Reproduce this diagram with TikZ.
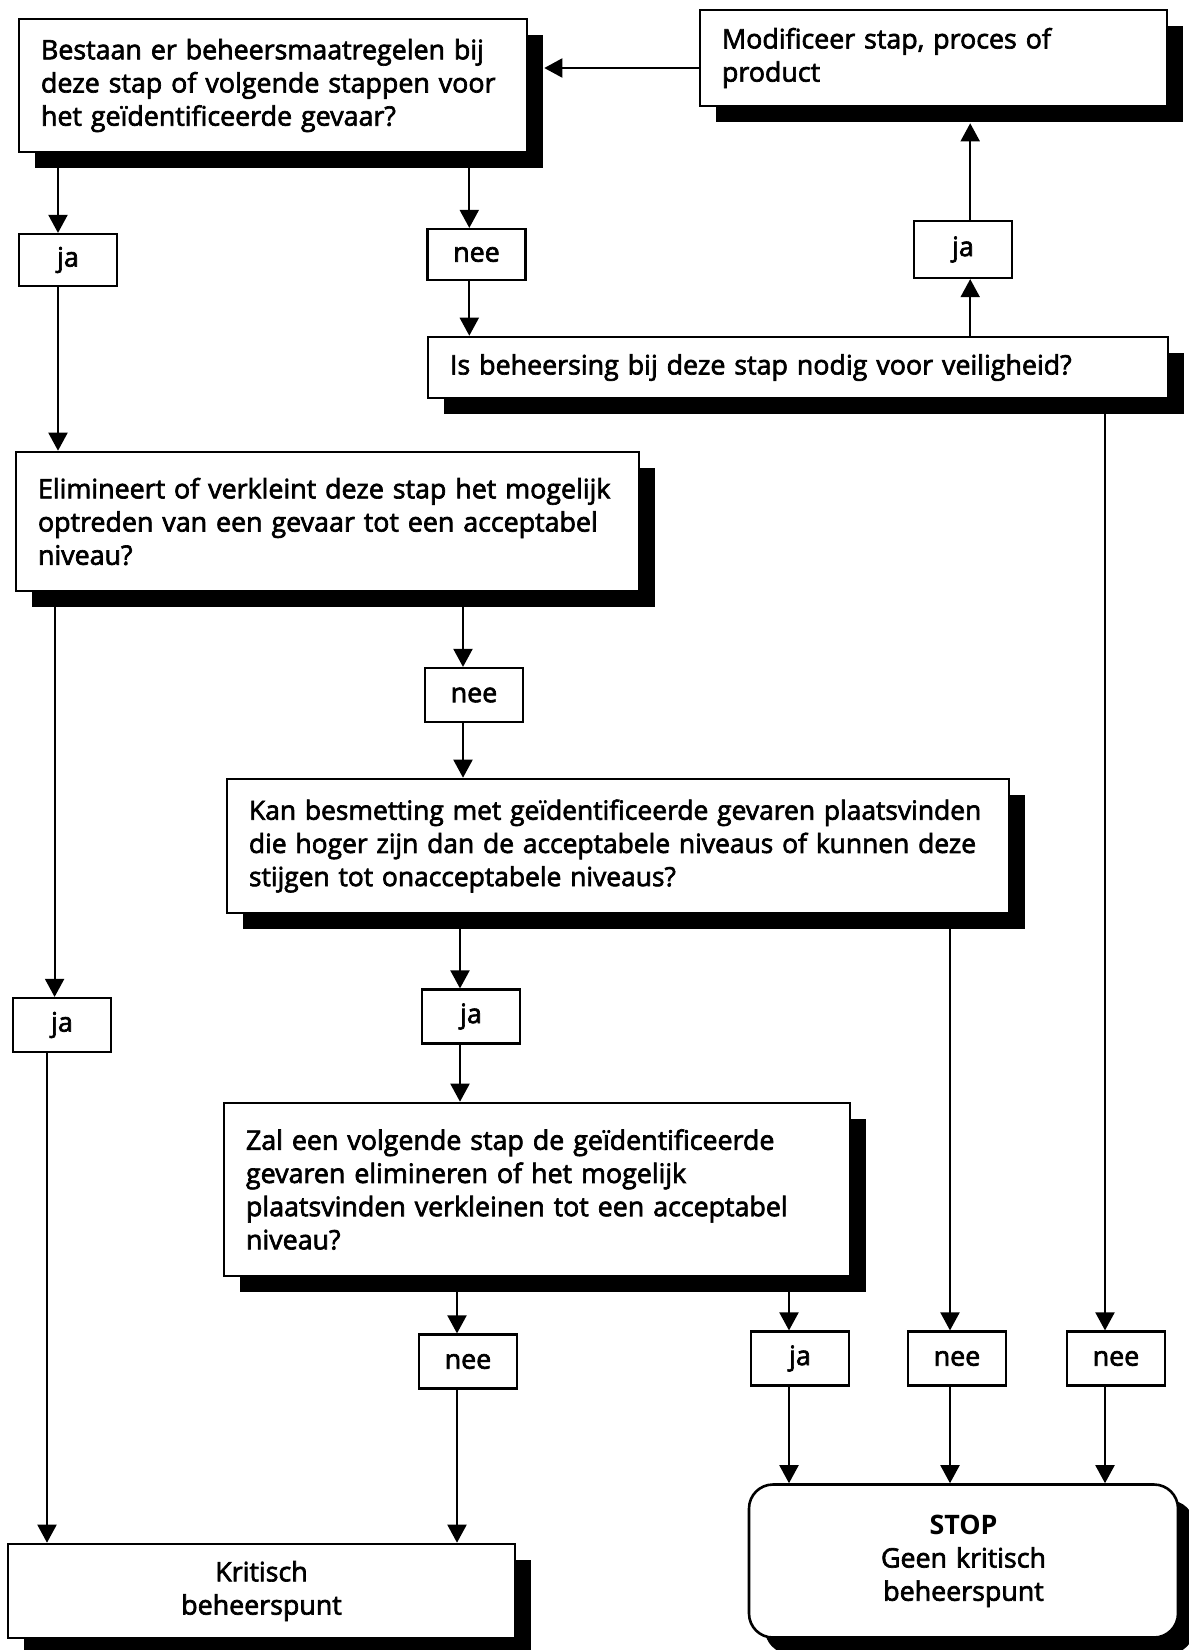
\documentclass[tikz,border=0pt]{standalone}
\usepackage{fontspec}
\setmainfont{Open Sans}[UprightFeatures={FakeBold=2.5}]
\usetikzlibrary{positioning}
\usetikzlibrary{arrows.meta}
\usetikzlibrary{shadows}
\tikzset{
  % A question box with a hard black drop shadow
  question/.style={
    draw=black, fill=white, line width=1.3pt, rectangle, align=left,
    inner xsep=11pt, inner ysep=4pt, text width=#1,
    general shadow={fill=black, shadow xshift=8pt, shadow yshift=-8pt}},
  % The two end boxes
  result/.style={
    draw=black, fill=white, line width=1.3pt, rectangle, align=center,
    inner xsep=11pt, text width=#1,
    general shadow={fill=black, shadow xshift=8pt, shadow yshift=-8pt}},
  % A small answer box (ja / nee)
  answer/.style={
    draw=black, fill=white, line width=1.1pt, rectangle, align=center,
    minimum width=49pt, minimum height=27pt, inner sep=2pt},
  % Connectors
  arr/.style={-{Triangle[length=9pt, width=9.5pt]}, line width=1pt},
}

\begin{document}
\begin{tikzpicture}[x=0.5pt, y=-0.5pt, font=\fontsize{13.4}{16.6}\selectfont]

  \useasboundingbox (0,0) rectangle (1189,1650);

  % questions
  \node[question=232pt, minimum height=66.5pt] (q1) at (273,85.5)
    {Bestaan er beheersmaatregelen bij\\deze stap of volgende stappen voor\\het geïdentificeerde gevaar?};
  \node[question=211.5pt, minimum height=48pt] (mod) at (933.5,58)
    {Modificeer stap, proces of\\product};
  \node[question=348pt, minimum height=30.5pt] (q2) at (798,367.5)
    {Is beheersing bij deze stap nodig voor veiligheid?};
  \node[question=289.5pt, minimum height=69.5pt] (q3) at (327.5,521.5)
    {Elimineert of verkleint deze stap het mogelijk\\optreden van een gevaar tot een acceptabel\\niveau?};
  \node[question=369pt, minimum height=67pt, font=\fontsize{13.2}{16.6}\selectfont] (q4) at (618,846)
    {Kan besmetting met geïdentificeerde gevaren plaatsvinden\\die hoger zijn dan de acceptabele niveaus of kunnen deze\\stijgen tot onacceptabele niveaus?};
  \node[question=291pt, minimum height=86.5pt] (q5) at (537,1189.5)
    {Zal een volgende stap de geïdentificeerde\\gevaren elimineren of het mogelijk\\plaatsvinden verkleinen tot een acceptabel\\niveau?};

  % end boxes
  \node[result=231.5pt, minimum height=47pt] (krit) at (261.5,1591)
    {Kritisch\\beheerspunt};
  \node[result=192.5pt, minimum height=76.5pt, rounded corners=12pt] (stop) at (963.5,1561)
    {\textbf{STOP}\\Geen kritisch\\beheerspunt};

  % answers
  \node[answer, minimum height=26pt] (ja1) at (68,260) {ja};
  \node[answer, minimum height=25.5pt] (nee1) at (476.5,254.5) {nee};
  \node[answer, minimum height=28.5pt] (jaM) at (963,249.5) {ja};
  \node[answer] (nee2) at (474,695) {nee};
  \node[answer] (jaL) at (62,1025) {ja};
  \node[answer] (jaC) at (471,1016.5) {ja};
  \node[answer] (nee3) at (468,1361.5) {nee};
  \node[answer] (jaR) at (800,1358.5) {ja};
  \node[answer] (nee4) at (957,1358.5) {nee};
  \node[answer] (nee5) at (1116,1358.5) {nee};

  % first question
  \draw[arr] ([xshift=-5pt]q1.south -| ja1) -- ([xshift=-5pt]ja1.north);
  \draw[arr] ([xshift=-5pt]ja1.south) -- ([xshift=-5pt]ja1.south |- q3.north);
  \draw[arr] ([xshift=-3.6pt]q1.south -| nee1) -- ([xshift=-3.6pt]nee1.north);
  \draw[arr] ([xshift=-3.6pt]nee1.south) -- ([xshift=-3.6pt]nee1.south |- q2.north);

  % control needed?
  \draw[arr] ([xshift=3.6pt]q2.north -| jaM) -- ([xshift=3.6pt]jaM.south);
  \draw[arr] ([xshift=3.6pt]jaM.north) -- ([xshift=3.6pt, yshift=-8pt]mod.south -| jaM);
  \draw[arr] ([yshift=-5pt]mod.west) -- ([xshift=8pt, yshift=-5pt]q1.east |- mod.west);
  \draw[arr] ([xshift=-5.5pt]q2.south -| nee5) -- ([xshift=-5.5pt]nee5.north);

  % elimination step
  \draw[arr] ([xshift=-3.7pt]q3.south -| jaL) -- ([xshift=-3.7pt]jaL.north);
  \draw[arr] ([xshift=-7.5pt]jaL.south) -- ([xshift=-7.5pt]jaL.south |- krit.north);
  \draw[arr] ([xshift=-5.5pt]q3.south -| nee2) -- ([xshift=-5.5pt]nee2.north);
  \draw[arr] ([xshift=-5.5pt]nee2.south) -- ([xshift=-5.5pt]nee2.south |- q4.north);

  % contamination
  \draw[arr] ([xshift=-5.5pt]q4.south -| jaC) -- ([xshift=-5.5pt]jaC.north);
  \draw[arr] ([xshift=-5.5pt]jaC.south) -- ([xshift=-5.5pt]jaC.south |- q5.north);
  \draw[arr] ([xshift=-3.5pt]q4.south -| nee4) -- ([xshift=-3.5pt]nee4.north);

  % next step
  \draw[arr] ([xshift=-5.5pt]q5.south -| nee3) -- ([xshift=-5.5pt]nee3.north);
  \draw[arr] ([xshift=-5.5pt]nee3.south) -- ([xshift=-5.5pt]nee3.south |- krit.north);
  \draw[arr] ([xshift=-5.5pt]q5.south -| jaR) -- ([xshift=-5.5pt]jaR.north);

  % into STOP
  \draw[arr] ([xshift=-5.5pt]jaR.south) -- ([xshift=-5.5pt]jaR.south |- stop.north);
  \draw[arr] ([xshift=-3.5pt]nee4.south) -- ([xshift=-3.5pt]nee4.south |- stop.north);
  \draw[arr] ([xshift=-5.5pt]nee5.south) -- ([xshift=-5.5pt]nee5.south |- stop.north);

\end{tikzpicture}
\end{document}
